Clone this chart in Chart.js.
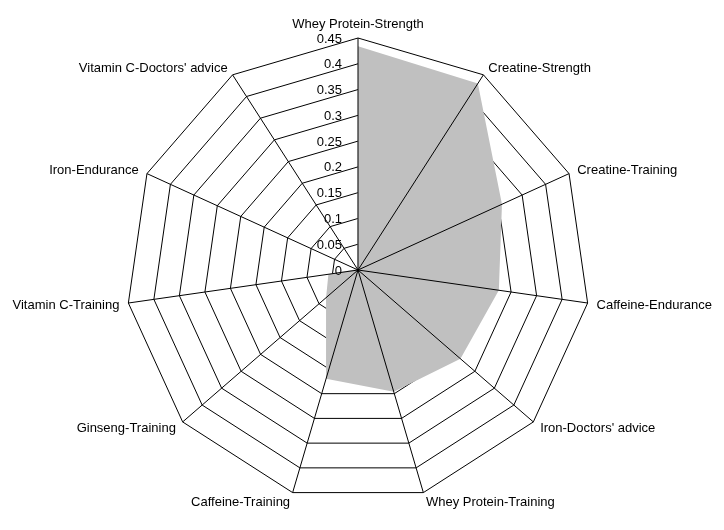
<!DOCTYPE html>
<html>
<head>
<meta charset="utf-8">
<script src="https://cdn.jsdelivr.net/npm/chart.js@4/dist/chart.umd.min.js"></script>
<style>
  body { margin: 0; background: #ffffff; }
  canvas { display: block; }
</style>
</head>
<body>
<canvas id="radarChart" width="724" height="530"></canvas>
<script>
const categories = [
    'Whey Protein-Strength',
    'Creatine-Strength',
    'Creatine-Training',
    'Caffeine-Endurance',
    "Iron-Doctors' advice",
    'Whey Protein-Training',
    'Caffeine-Training',
    'Ginseng-Training',
    'Vitamin C-Training',
    'Iron-Endurance',
    "Vitamin C-Doctors' advice"
];

const seriesValues = [0.434, 0.43, 0.307, 0.276, 0.263, 0.246, 0.22, 0.082, 0.058, 0.004, 0.002];

const tickValues = [0, 0.05, 0.1, 0.15, 0.2, 0.25, 0.3, 0.35, 0.4, 0.45];
const tickLabels = ['0', '0.05', '0.1', '0.15', '0.2', '0.25', '0.3', '0.35', '0.4', '0.45'];

const FONT = '13px "Liberation Sans", Arial, sans-serif';

// spokes go over the grey area, labels drawn like the old spreadsheet chart
const excelLook = {
    id: 'excelLook',
    afterDatasetsDraw(chart) {
        const scale = chart.scales.r;
        const ctx = chart.ctx;
        ctx.save();
        ctx.strokeStyle = '#000000';
        ctx.lineWidth = 1;
        categories.forEach((c, i) => {
            const p = scale.getPointPosition(i, scale.drawingArea);
            ctx.beginPath();
            ctx.moveTo(scale.xCenter, scale.yCenter);
            ctx.lineTo(p.x, p.y);
            ctx.stroke();
        });
        ctx.restore();
    },
    afterDraw(chart) {
        const scale = chart.scales.r;
        const ctx = chart.ctx;
        ctx.save();
        ctx.font = FONT;
        ctx.fillStyle = '#000000';

        // value axis labels, left of the vertical axis
        ctx.textAlign = 'right';
        ctx.textBaseline = 'middle';
        tickValues.forEach((v, i) => {
            const p = scale.getPointPositionForValue(0, v);
            ctx.fillText(tickLabels[i], p.x - 16, p.y + 1);
        });

        // category labels
        categories.forEach((c, i) => {
            const p = scale.getPointPosition(i, scale.drawingArea + 9);
            const dx = p.x - scale.xCenter;
            if (i === 0) {
                ctx.textAlign = 'center';
                ctx.textBaseline = 'bottom';
                ctx.fillText(c, p.x, p.y + 2);
                return;
            }
            ctx.textAlign = dx > 0 ? 'left' : 'right';
            ctx.textBaseline = 'middle';
            ctx.fillText(c, p.x, p.y + 1);
        });
        ctx.restore();
    }
};

const ctx = document.getElementById('radarChart').getContext('2d');

new Chart(ctx, {
    type: 'radar',
    data: {
        labels: categories,
        datasets: [{
            label: 'Series 1',
            data: seriesValues,
            backgroundColor: '#c0c0c0',
            borderWidth: 0,
            pointRadius: 0,
            fill: true
        }]
    },
    options: {
        responsive: false,
        animation: false,
        plugins: {
            legend: { display: false },
            tooltip: { enabled: false }
        },
        scales: {
            r: {
                min: 0,
                max: 0.45,
                ticks: { stepSize: 0.05, display: false },
                pointLabels: { display: false },
                angleLines: { display: false },
                grid: { color: '#000000', lineWidth: 1, circular: false },
                afterFit(scale) {
                    scale.xCenter = 358;
                    scale.yCenter = 270;
                    scale.drawingArea = 232;
                }
            }
        }
    },
    plugins: [excelLook]
});
</script>
</body>
</html>
